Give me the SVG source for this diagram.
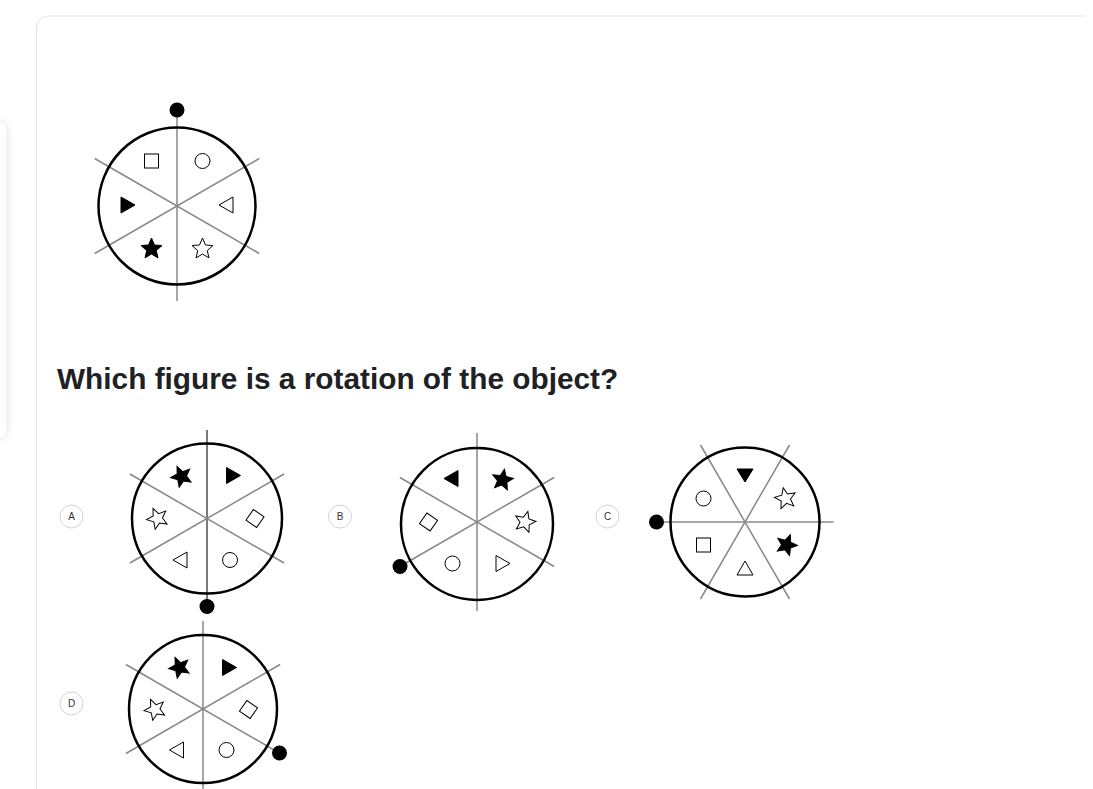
<svg xmlns="http://www.w3.org/2000/svg" width="1093" height="789" viewBox="0 0 1093 789">
<style>
.ring{fill:none;stroke:#000;stroke-width:2.5}
.ln{stroke:#888;stroke-width:1.5;fill:none}
.lnk{stroke:#222;stroke-width:1.2;fill:none}
.dot{fill:#000}
.f{fill:#000;stroke:#000;stroke-width:1}
.o{fill:#fff;stroke:#000;stroke-width:1}
.lab circle{fill:#fff;stroke:#d4d4d4;stroke-width:1}
.lab text{font-family:"Liberation Sans",Arial,sans-serif;font-size:10px;fill:#333;text-anchor:middle}
.q{font-family:"Liberation Sans",Arial,sans-serif;font-weight:bold;font-size:29.8px;fill:#202124}
</style>
<defs>
<path id="star" d="M0,-11 L2.94,-4.05 L10.46,-3.4 L4.76,1.55 L6.47,8.9 L0,5 L-6.47,8.9 L-4.76,1.55 L-10.46,-3.4 L-2.94,-4.05 Z"/>
<path id="triR" d="M-6,-8 L8,0 L-6,8 Z"/>
<path id="triL" d="M6,-8 L-8,0 L6,8 Z"/>
<rect id="sq" x="-7" y="-7" width="14" height="14"/>
<rect id="dia" x="-6.5" y="-6.5" width="13" height="13"/>
<circle id="cir" r="7.5"/>
<filter id="sh" x="-1" y="-0.2" width="3" height="1.4"><feGaussianBlur stdDeviation="5"/></filter>
</defs>
<rect width="1093" height="789" fill="#fff"/>
<g id="sidecard">
<rect x="-20" y="123" width="26" height="314" rx="6" fill="#000" opacity="0.14" filter="url(#sh)"/>
<rect x="-20" y="123" width="26" height="314" rx="6" fill="#fff"/>
</g>
<path id="card" d="M36.5,789 L36.5,28 A12,12 0 0 1 48.5,16 L1085,16" fill="none" stroke="#e1e4ea" stroke-width="1"/>

<g id="object">
<g class="conn">
<line class="ln" x1="177" y1="111" x2="177" y2="301"/>
<line class="ln" x1="94.7" y1="158.5" x2="259.3" y2="253.5"/>
<line class="ln" x1="94.7" y1="253.5" x2="259.3" y2="158.5"/>
</g>
<circle class="ring" cx="177" cy="206" r="78.5"/>
<circle class="dot" cx="177" cy="110" r="7.5"/>
<use href="#sq" class="o" x="151.5" y="161"/>
<use href="#cir" class="o" x="202.5" y="161"/>
<use href="#triL" class="o" x="227" y="205"/>
<use href="#star" class="o" x="202.5" y="249"/>
<use href="#star" class="f" x="151.5" y="249"/>
<use href="#triR" class="f" x="127" y="205"/>
</g>

<text class="q" x="57" y="389">Which figure is a rotation of the object?</text>

<g id="labelA" class="lab"><circle cx="71.5" cy="516.5" r="11.5"/><text x="71.5" y="520">A</text></g>
<g id="labelB" class="lab"><circle cx="340" cy="516.5" r="11.5"/><text x="340" y="520">B</text></g>
<g id="labelC" class="lab"><circle cx="607.5" cy="516.5" r="11.5"/><text x="607.5" y="520">C</text></g>
<g id="labelD" class="lab"><circle cx="71.5" cy="703.5" r="11.5"/><text x="71.5" y="707">D</text></g>

<g id="optionA">
<g class="conn">
<line class="lnk" x1="207" y1="430" x2="207" y2="600"/>
<line class="ln" x1="129.9" y1="474" x2="284.1" y2="563"/>
<line class="ln" x1="129.9" y1="563" x2="284.1" y2="474"/>
</g>
<circle class="ring" cx="207" cy="518.5" r="75"/>
<circle class="dot" cx="207" cy="606.5" r="7.5"/>
<use href="#star" class="f" transform="translate(181.5,476.5) rotate(-24)"/>
<use href="#triR" class="f" x="232.5" y="475.5"/>
<use href="#dia" class="o" transform="translate(255,518.5) rotate(35)"/>
<use href="#cir" class="o" x="230" y="560"/>
<use href="#triL" class="o" x="181" y="560"/>
<use href="#star" class="o" transform="translate(157.5,518.5) rotate(-24)"/>
</g>

<g id="optionB">
<g class="conn">
<line class="ln" x1="477" y1="433" x2="477" y2="611"/>
<line class="ln" x1="399.9" y1="477.5" x2="554.1" y2="566.5"/>
<line class="ln" x1="399.9" y1="566.5" x2="554.1" y2="477.5"/>
</g>
<circle class="ring" cx="477" cy="524" r="76"/>
<circle class="dot" cx="400" cy="566.5" r="7.5"/>
<use href="#triL" class="f" x="452" y="478.5"/>
<use href="#star" class="f" transform="translate(502.5,480) rotate(10)"/>
<use href="#star" class="o" transform="translate(525,522) rotate(15)"/>
<use href="#triR" class="o" x="502" y="563.5"/>
<use href="#cir" class="o" x="452.5" y="563.5"/>
<use href="#dia" class="o" transform="translate(428.5,522) rotate(35)"/>
</g>

<g id="optionC">
<g class="conn">
<line class="ln" x1="657" y1="522" x2="833.5" y2="522"/>
<line class="ln" x1="700.5" y1="445" x2="789.5" y2="599"/>
<line class="ln" x1="700.5" y1="599" x2="789.5" y2="445"/>
</g>
<circle class="ring" cx="745" cy="522" r="74.5"/>
<circle class="dot" cx="656.5" cy="522" r="7.5"/>
<path class="f" d="M737,469 L753,469 L745,482 Z"/>
<use href="#star" class="o" transform="translate(785.5,498.5) rotate(-12)"/>
<use href="#star" class="f" transform="translate(786.5,545) rotate(20)"/>
<path class="o" d="M737,575 L753,575 L745,561 Z"/>
<use href="#sq" class="o" x="703.5" y="545"/>
<use href="#cir" class="o" x="703.5" y="498.5"/>
</g>

<g id="optionD">
<g class="conn">
<line class="ln" x1="203" y1="621" x2="203" y2="789"/>
<line class="ln" x1="125.9" y1="664.5" x2="280.1" y2="753.5"/>
<line class="ln" x1="125.9" y1="753.5" x2="280.1" y2="664.5"/>
</g>
<circle class="ring" cx="203" cy="709" r="74"/>
<circle class="dot" cx="279.5" cy="753" r="7.5"/>
<use href="#star" class="f" transform="translate(179.5,667.5) rotate(-24)"/>
<use href="#triR" class="f" x="228.5" y="667.5"/>
<use href="#dia" class="o" transform="translate(248.5,709.5) rotate(35)"/>
<use href="#cir" class="o" x="226.5" y="750"/>
<use href="#triL" class="o" x="177.5" y="750"/>
<use href="#star" class="o" transform="translate(155,709.5) rotate(-24)"/>
</g>
</svg>
